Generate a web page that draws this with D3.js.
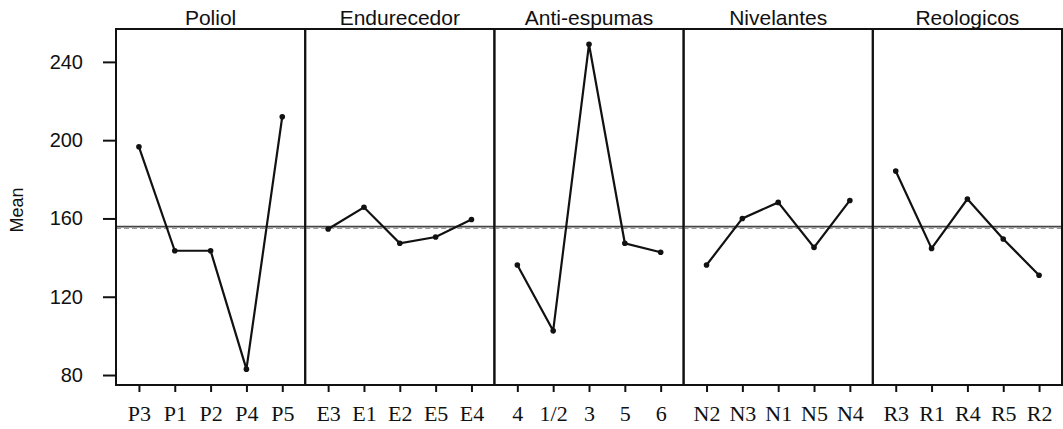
<!DOCTYPE html>
<html>
<head>
<meta charset="utf-8">
<script src="https://cdn.jsdelivr.net/npm/d3@7"></script>
<style>
  body { margin: 0; background: #fff; }
  svg { display: block; }
</style>
</head>
<body>
<div id="chart"></div>
<script>
const panelTitles = ["Poliol", "Endurecedor", "Anti-espumas", "Nivelantes", "Reologicos"];
const poliolLevels = ["P3", "P1", "P2", "P4", "P5"];
const poliolMeans = [196.6, 143.5, 143.5, 83, 212];
const endurecedorLevels = ["E3", "E1", "E2", "E5", "E4"];
const endurecedorMeans = [154.6, 165.7, 147.3, 150.5, 159.5];
const antiespumasLevels = ["4", "1/2", "3", "5", "6"];
const antiespumasMeans = [136.2, 102.6, 249, 147.3, 142.7];
const nivelantesLevels = ["N2", "N3", "N1", "N5", "N4"];
const nivelantesMeans = [136.2, 160, 168.2, 145.2, 169.2];
const reologicosLevels = ["R3", "R1", "R4", "R5", "R2"];
const reologicosMeans = [184.2, 144.7, 169.9, 149.5, 131];
const yTicks = [80, 120, 160, 200, 240];
const grandMean = 155.8;

const panels = [
    {levels: poliolLevels, means: poliolMeans},
    {levels: endurecedorLevels, means: endurecedorMeans},
    {levels: antiespumasLevels, means: antiespumasMeans},
    {levels: nivelantesLevels, means: nivelantesMeans},
    {levels: reologicosLevels, means: reologicosMeans}
].map((p, i) => ({...p, title: panelTitles[i]}));

const W = 1063, H = 429;
const margin = {top: 29, right: 1, bottom: 44, left: 116};
const width = W - margin.left - margin.right;
const height = H - margin.top - margin.bottom;

const svg = d3.select("#chart").append("svg")
    .attr("width", W)
    .attr("height", H);

const g = svg.append("g").attr("transform", `translate(${margin.left},${margin.top})`);

const y = d3.scaleLinear().domain([74.9, 256.8]).range([height, 0]);
const panelX = d3.scaleBand().domain(panelTitles).range([0, width]);
const pw = panelX.bandwidth();

// y axis
g.append("g")
    .call(d3.axisLeft(y).tickValues(yTicks).tickSize(13).tickPadding(20))
    .call(a => a.select(".domain").remove())
    .call(a => a.selectAll("line").attr("stroke", "#111").attr("stroke-width", 2))
    .call(a => a.selectAll("text")
        .style("font-family", "Liberation Sans, Arial, sans-serif")
        .style("font-size", "20px")
        .attr("fill", "#111"));

svg.append("text")
    .attr("transform", `translate(23,210) rotate(-90)`)
    .attr("text-anchor", "middle")
    .style("font-family", "Liberation Sans, Arial, sans-serif")
    .style("font-size", "18px")
    .attr("fill", "#111")
    .text("Mean");

panels.forEach(p => {
    const x0 = panelX(p.title);
    const pg = g.append("g").attr("transform", `translate(${x0},0)`);
    const x = d3.scalePoint().domain(p.levels).range([0, pw]).padding(0.64);

    // reference lines at the grand mean
    pg.append("line")
        .attr("x1", 0).attr("x2", pw)
        .attr("y1", y(grandMean)).attr("y2", y(grandMean))
        .attr("stroke", "#444").attr("stroke-width", 1.8);
    pg.append("line")
        .attr("x1", 0).attr("x2", pw)
        .attr("y1", y(grandMean) + 1.6).attr("y2", y(grandMean) + 1.6)
        .attr("stroke", "#999").attr("stroke-width", 1.4)
        .attr("stroke-dasharray", "5,3");

    const line = d3.line()
        .x((d, i) => x(p.levels[i]))
        .y(d => y(d));

    pg.append("path")
        .datum(p.means)
        .attr("fill", "none")
        .attr("stroke", "#111")
        .attr("stroke-width", 2.2)
        .attr("d", line);

    pg.selectAll(".dot")
        .data(p.means)
        .enter().append("circle")
        .attr("class", "dot")
        .attr("cx", (d, i) => x(p.levels[i]))
        .attr("cy", d => y(d))
        .attr("r", 2.8)
        .attr("fill", "#111");

    // bottom axis
    pg.append("g")
        .attr("transform", `translate(0,${height})`)
        .call(d3.axisBottom(x).tickSize(7).tickPadding(13))
        .call(a => a.select(".domain").remove())
        .call(a => a.selectAll("line").attr("stroke", "#111").attr("stroke-width", 2))
        .call(a => a.selectAll("text")
            .style("font-family", "Liberation Serif, Times New Roman, serif")
            .style("font-size", "22px")
            .attr("fill", "#111"));

    // panel frame
    pg.append("rect")
        .attr("x", 0).attr("y", 0)
        .attr("width", pw).attr("height", height)
        .attr("fill", "none")
        .attr("stroke", "#111")
        .attr("stroke-width", 2);

    pg.append("text")
        .attr("x", pw / 2)
        .attr("y", -4)
        .attr("text-anchor", "middle")
        .style("font-family", "Liberation Sans, Arial, sans-serif")
        .style("font-size", "21px")
        .attr("fill", "#111")
        .text(p.title);
});
</script>
</body>
</html>
